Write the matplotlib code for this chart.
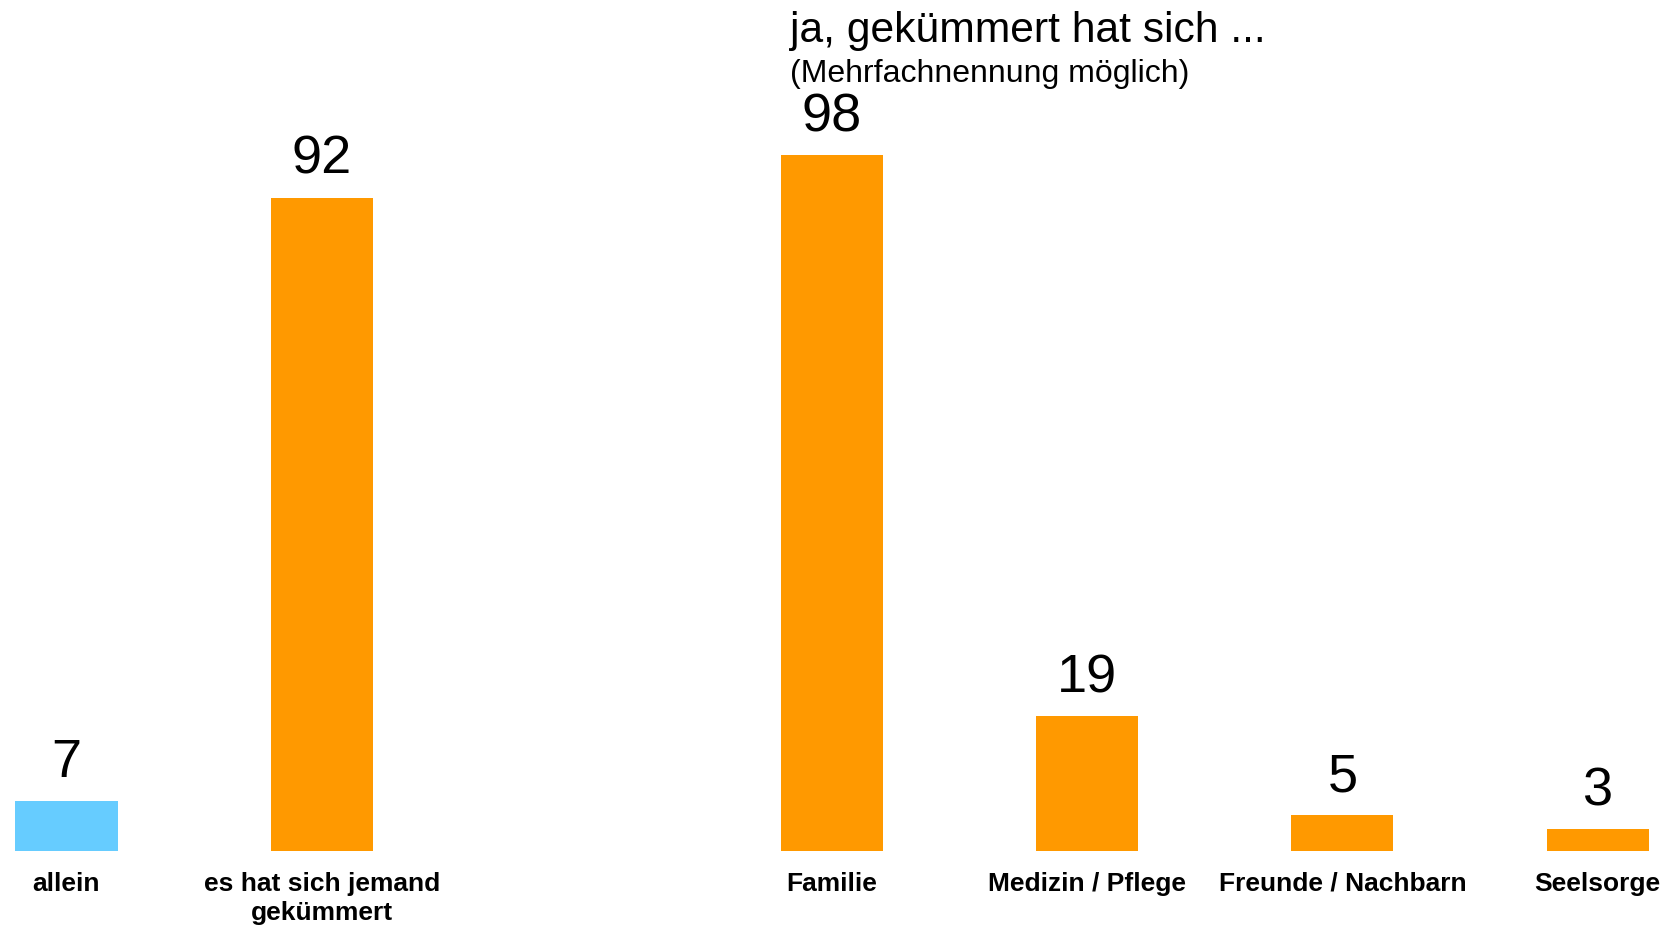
import matplotlib
matplotlib.use("Agg")
import matplotlib.pyplot as plt

plt.rcParams["font.family"] = ["Liberation Sans", "DejaVu Sans"]

# --- daten ---
categories = ["allein", "es hat sich jemand\ngekümmert", "Familie",
              "Medizin / Pflege", "Freunde / Nachbarn", "Seelsorge"]
positions = [0, 1, 3, 4, 5, 6]
values = [7, 92, 98, 19, 5, 3]
colors = ["#66CCFF", "#FF9900", "#FF9900", "#FF9900", "#FF9900", "#FF9900"]
title = "ja, gekümmert hat sich ..."
subtitle = "(Mehrfachnennung möglich)"

fig = plt.figure(figsize=(16.68, 9.26), dpi=100)
ax = fig.add_axes([0, 75.3 / 926, 1, 850.7 / 926])
ax.bar(positions, values, width=0.4, color=colors)
ax.set_xlim(-0.2606, 6.276)
ax.set_ylim(0, 850.7 / 7.1)
for x, v in zip(positions, values):
    ax.annotate(str(v), (x, v), xytext=(0, 17), textcoords="offset points",
                ha="center", va="baseline", fontsize=39)
ax.set_xticks(positions)
ax.set_xticklabels(categories, fontsize=19, fontweight="bold", linespacing=1.3)
ax.tick_params(axis="x", length=0, pad=15)
ax.tick_params(axis="y", left=False, labelleft=False)
for s in ax.spines.values():
    s.set_visible(False)

fig.text(790 / 1668, (926 - 42) / 926, title, fontsize=30.7, va="baseline")
fig.text(790 / 1668, (926 - 82) / 926, subtitle, fontsize=23, va="baseline")

fig.savefig("out.png", dpi=100, facecolor="white")
